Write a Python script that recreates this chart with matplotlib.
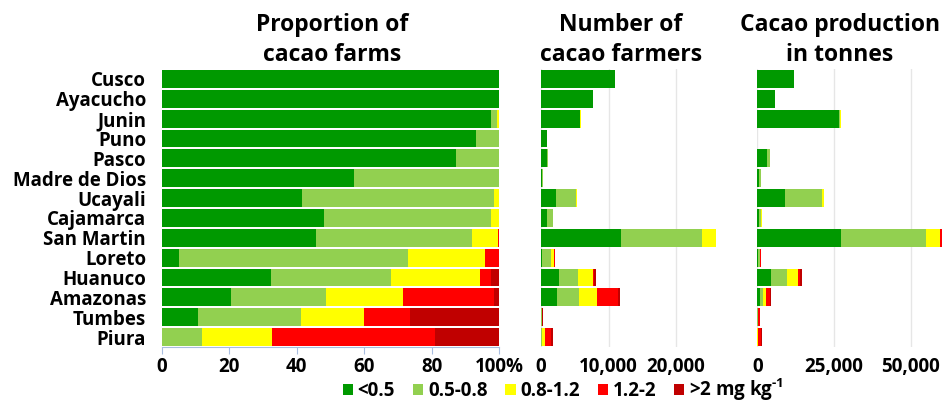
import matplotlib
matplotlib.use('Agg')
import matplotlib.pyplot as plt
from matplotlib.patches import Patch
import numpy as np

plt.rcParams['font.family'] = 'Open Sans'
plt.rcParams['font.weight'] = 'bold'
plt.rcParams['mathtext.fontset'] = 'custom'
plt.rcParams['mathtext.rm'] = 'Open Sans:bold'
plt.rcParams['mathtext.bf'] = 'Open Sans:bold'

regions = ['Cusco', 'Ayacucho', 'Junin', 'Puno', 'Pasco', 'Madre de Dios', 'Ucayali',
           'Cajamarca', 'San Martin', 'Loreto', 'Huanuco', 'Amazonas', 'Tumbes', 'Piura']
classes = ['<0.5', '0.5-0.8', '0.8-1.2', '1.2-2', r'>2 mg kg$^{\text{-1}}$']
colors = ['#009900', '#92d050', '#ffff00', '#ff0000', '#c00000']

# proportion of farms (%) per Cd class
pct_lt05  = [100, 100, 97.7, 93.2, 87.1, 56.9, 41.5, 48.0, 45.8, 4.9, 32.4, 20.6, 10.8, 0]
pct_05_08 = [0, 0, 1.8, 6.8, 12.9, 43.1, 57.1, 49.7, 46.1, 68.1, 35.5, 28.0, 30.4, 11.9]
pct_08_12 = [0, 0, 0.5, 0, 0, 0, 1.4, 2.3, 7.9, 22.9, 26.4, 22.9, 18.6, 20.8]
pct_12_2  = [0, 0, 0, 0, 0, 0, 0, 0, 0.2, 4.1, 3.3, 26.9, 13.7, 48.4]
pct_gt2   = [0, 0, 0, 0, 0, 0, 0, 0, 0, 0, 2.4, 1.6, 26.5, 18.9]

# number of farmers per Cd class
farm_lt05  = [10940, 7670, 5740, 840, 950, 170, 2200, 880, 11880, 100, 2620, 2400, 25, 0]
farm_05_08 = [0, 0, 105, 60, 140, 130, 3030, 910, 11930, 1380, 2880, 3260, 70, 220]
farm_08_12 = [0, 0, 30, 0, 0, 0, 75, 40, 2050, 465, 2140, 2670, 43, 380]
farm_12_2  = [0, 0, 0, 0, 0, 0, 0, 0, 60, 85, 270, 3130, 31, 886]
farm_gt2   = [0, 0, 0, 0, 0, 0, 0, 0, 0, 0, 195, 190, 61, 346]

# production (tonnes) per Cd class
tons_lt05  = [12070, 5650, 26740, 0, 3260, 650, 8910, 650, 27390, 100, 4570, 870, 0, 0]
tons_05_08 = [0, 0, 300, 40, 800, 650, 12280, 650, 27500, 870, 5110, 980, 100, 0]
tons_08_12 = [0, 0, 300, 0, 0, 0, 430, 100, 4680, 0, 3700, 980, 250, 330]
tons_12_2  = [0, 0, 0, 0, 0, 0, 0, 0, 650, 300, 650, 1300, 400, 850]
tons_gt2   = [0, 0, 0, 0, 0, 0, 0, 0, 0, 0, 430, 220, 200, 250]

pct = [pct_lt05, pct_05_08, pct_08_12, pct_12_2, pct_gt2]
farmers = [farm_lt05, farm_05_08, farm_08_12, farm_12_2, farm_gt2]
tonnes = [tons_lt05, tons_05_08, tons_08_12, tons_12_2, tons_gt2]

W, H = 943, 403
fig = plt.figure(figsize=(W / 100, H / 100), dpi=100)

def box(x0, x1, y0=69, y1=347):
    return [x0 / W, 1 - y1 / H, (x1 - x0) / W, (y1 - y0) / H]

ax1 = fig.add_axes(box(162, 499))
ax2 = fig.add_axes(box(541, 718))
ax3 = fig.add_axes(box(757.3, 943))

y = np.arange(len(regions))
FS = 13.5


def stack(ax, series):
    left = np.zeros(len(regions))
    for vals, c in zip(series, colors):
        vals = np.array(vals, dtype=float)
        ax.barh(y, vals, left=left, height=0.9, color=c, edgecolor='none', zorder=2)
        left += vals


stack(ax1, pct)
stack(ax2, farmers)
stack(ax3, tonnes)

for ax in (ax1, ax2, ax3):
    ax.set_ylim(len(regions) - 0.5, -0.5)
    for s in ['top', 'right', 'left']:
        ax.spines[s].set_visible(False)
    ax.tick_params(axis='x', labelsize=FS)

ax1.set_xlim(0, 100)
ax1.set_xticks([0, 20, 40, 60, 80, 100])
ax1.set_xticklabels(['0', '20', '40', '60', '80', '100%'])
ax1.spines['bottom'].set_color('#a8bde0')
ax1.tick_params(axis='x', color='#a8bde0', length=5, pad=2)
ax1.set_yticks(y)
ax1.set_yticklabels(regions, fontsize=FS)
ax1.tick_params(axis='y', length=0, pad=11.5)

ax2.set_xlim(0, 26200)
ax2.set_xticks([0, 10000, 20000])
ax2.set_xticklabels(['0', '10,000', '20,000'])

ax3.set_xlim(0, 60500)
ax3.set_xticks([0, 25000, 50000])
ax3.set_xticklabels(['0', '25,000', '50,000'])

for ax in (ax2, ax3):
    ax.spines['bottom'].set_visible(False)
    ax.set_yticks([])
    ax.tick_params(axis='x', length=0, pad=7)
    ax.grid(axis='x', color='#e6e6e6', linewidth=1, zorder=0)

titles = [('Proportion of\ncacao farms', 332), ('Number of\ncacao farmers', 621),
          ('Cacao production\nin tonnes', 840)]
for t, xc in titles:
    fig.text(xc / W, 1 - 40 / H, t, ha='center', va='center', fontsize=16.5,
             fontweight='bold', linespacing=1.3)

handles = [Patch(facecolor=c, edgecolor='none') for c in colors]
fig.legend(handles, classes, loc='center', bbox_to_anchor=(563 / W, 1 - 390 / H), ncol=5,
           frameon=False, fontsize=FS, handlelength=0.55, handleheight=0.55,
           handletextpad=0.25, columnspacing=0.95, borderpad=0)

fig.savefig('out.png', dpi=100)
plt.close()
